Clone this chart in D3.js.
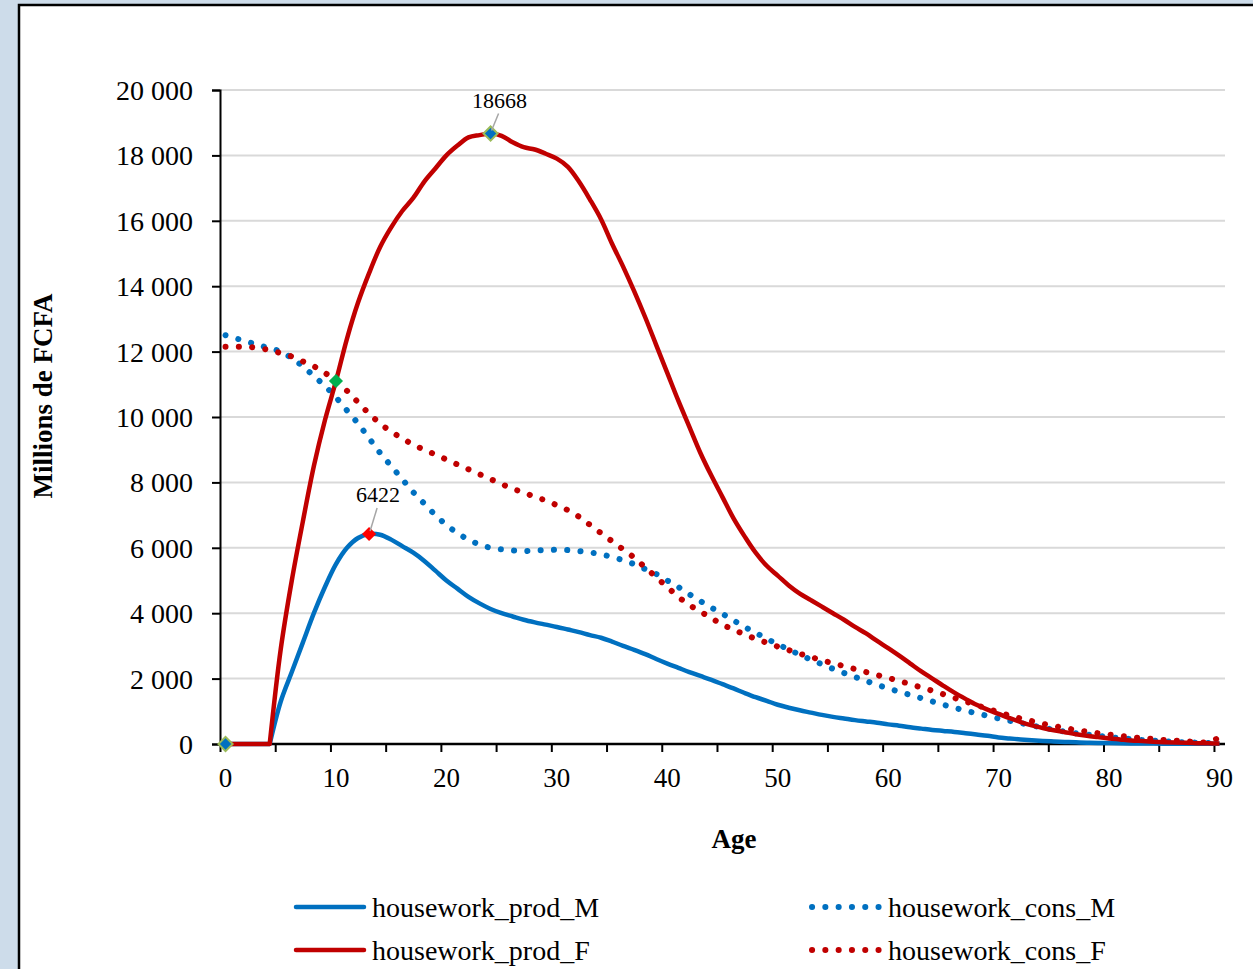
<!DOCTYPE html>
<html><head><meta charset="utf-8">
<script src="https://cdn.jsdelivr.net/npm/d3@7"></script>
<style>
html,body{margin:0;padding:0;background:#cddcea;}
svg{display:block;}
text{font-family:"Liberation Serif","Times New Roman",serif;fill:#000;}
</style></head>
<body>
<svg id="chart" width="1253" height="969"></svg>
<script>
const ages = d3.range(0, 91);
const prodM = [0,0,0,0,0,1300,2200,3100,4000,4800,5500,6000,6300,6422,6400,6250,6050,5850,5600,5300,5000,4750,4500,4300,4130,4000,3900,3800,3720,3650,3580,3500,3420,3330,3250,3130,3000,2880,2750,2600,2460,2330,2200,2080,1960,1830,1700,1560,1430,1320,1200,1110,1030,960,890,830,780,730,690,650,600,560,510,470,430,400,370,330,290,250,200,170,140,115,95,78,64,52,42,34,27,22,18,15,12,10,8,7,6,5,5];
const prodF = [0,0,0,0,0,2900,5000,6800,8500,9900,11100,12400,13500,14400,15200,15800,16300,16700,17200,17600,18000,18300,18550,18620,18668,18600,18400,18250,18180,18050,17900,17650,17200,16650,16050,15300,14600,13850,13050,12200,11350,10500,9700,8900,8200,7550,6900,6350,5850,5450,5150,4850,4600,4400,4200,4000,3800,3580,3380,3150,2930,2700,2460,2220,2000,1780,1570,1380,1200,1050,920,790,670,570,490,420,360,300,250,210,170,140,110,90,70,55,45,35,25,20,15];
const consM = [12500,12400,12300,12200,12100,12000,11800,11550,11250,10950,10600,10200,9800,9350,8900,8500,8100,7700,7350,7000,6700,6450,6250,6100,6000,5950,5920,5900,5920,5930,5940,5930,5900,5860,5800,5720,5620,5500,5350,5200,5000,4800,4580,4370,4170,3980,3780,3580,3400,3220,3050,2890,2730,2580,2440,2300,2170,2050,1930,1810,1700,1600,1500,1400,1300,1200,1110,1020,940,860,780,710,640,570,500,440,380,330,290,250,210,180,150,120,100,80,65,50,40,30,100];
const consF = [12150,12150,12150,12100,12050,11950,11850,11700,11550,11350,11100,10800,10450,10100,9800,9550,9350,9150,9000,8850,8700,8550,8400,8250,8100,7950,7800,7700,7550,7450,7300,7150,6950,6700,6450,6200,5950,5700,5400,5100,4800,4500,4250,4050,3850,3650,3500,3350,3220,3100,2980,2870,2760,2660,2560,2470,2380,2290,2200,2110,2020,1930,1830,1730,1630,1520,1410,1300,1190,1080,970,870,780,700,620,550,490,430,380,330,290,250,210,180,150,120,100,80,60,50,210];
const yTicks = [0,2000,4000,6000,8000,10000,12000,14000,16000,18000,20000];
const xLabels = [0,10,20,30,40,50,60,70,80,90];
const seriesNames = ["housework_prod_M","housework_prod_F","housework_cons_M","housework_cons_F"];
const annotations = [{age:24, value:18668, label:"18668", dy:20},{age:13, value:6422, label:"6422", dy:26}];

const svg = d3.select("#chart");
svg.append("rect").attr("x",19).attr("y",5).attr("width",1260).attr("height",990)
  .attr("fill","#fff").attr("stroke","#000").attr("stroke-width",2.5);

const L=220, R=1225, T=90, B=744;
const x = d3.scaleLinear().domain([-0.5,90.5]).range([L,R]);
const y = d3.scaleLinear().domain([0,20000]).range([B,T]);

svg.append("g").selectAll("line").data(yTicks.filter(d=>d>0)).join("line")
  .attr("x1",L).attr("x2",R).attr("y1",d=>y(d)).attr("y2",d=>y(d))
  .attr("stroke","#d9d9d9").attr("stroke-width",2);

const yAxis = d3.axisLeft(y).tickValues(yTicks).tickSize(8).tickPadding(19)
  .tickFormat(d=>d3.format(",")(d).replace(/,/g," "));
const gy = svg.append("g").attr("transform",`translate(${L},0)`).call(yAxis);
gy.select(".domain").attr("stroke","#000").attr("stroke-width",2);
gy.selectAll(".tick line").attr("stroke","#000").attr("stroke-width",2);
gy.selectAll(".tick text").attr("font-size",28).attr("font-family","Liberation Serif").attr("dy","0.34em");

const tickPos = d3.range(0,19).map(k=>-0.5+5*k);
const gx = svg.append("g").attr("transform",`translate(0,${B})`)
  .call(d3.axisBottom(x).tickValues(tickPos).tickSize(8).tickFormat(""));
gx.select(".domain").attr("stroke","#000").attr("stroke-width",2.5).attr("d",`M${L},0H${R}`);
gx.selectAll(".tick line").attr("stroke","#000").attr("stroke-width",2);
svg.append("g").selectAll("text").data(xLabels).join("text")
  .attr("x",d=>x(d)).attr("y",787).attr("text-anchor","middle")
  .attr("font-size",27).text(d=>d);

svg.append("text").attr("x",734).attr("y",848).attr("text-anchor","middle")
  .attr("font-size",27).attr("font-weight","bold").text("Age");
svg.append("text").attr("transform","translate(52,396) rotate(-90)").attr("text-anchor","middle")
  .attr("font-size",27).attr("font-weight","bold").text("Millions de FCFA");

const smooth = d3.line().x(d=>x(d.a)).y(d=>y(d.v)).curve(d3.curveCatmullRom.alpha(0.5));
const straight = d3.line().x(d=>x(d.a)).y(d=>y(d.v));
const blue="#0070c0", red="#c00000";
const dotted = {"stroke-dasharray":"0.1 13.2","stroke-linecap":"round","stroke-width":6};

function pts(data){ return data.map((v,i)=>({a:ages[i],v:v})); }
// path: leading zero run straight, then smoothed from last zero onward
function pathD(data){
  const p = pts(data);
  let k = 0; while(k+1<p.length && p[k+1].v===0) k++;
  if(k===0) return smooth(p);
  return straight(p.slice(0,k+1)) + smooth(p.slice(k)).replace(/^M/,"L");
}
function drawSolid(data,color){
  svg.append("path").attr("d",pathD(data)).attr("fill","none")
    .attr("stroke",color).attr("stroke-width",4.5).attr("stroke-linejoin","round");
}
function drawDotted(data,color){
  const p = svg.append("path").attr("d",pathD(data)).attr("fill","none").attr("stroke",color);
  for(const k in dotted) p.attr(k,dotted[k]);
}
drawDotted(consM,blue);
drawDotted(consF,red);
drawSolid(prodM,blue);
drawSolid(prodF,red);

const diamond = d3.symbol().type(d3.symbolSquare).size(100);
function marker(age,val,fill,stroke){
  svg.append("path").attr("d",diamond())
    .attr("transform",`translate(${x(age)},${y(val)}) rotate(45)`)
    .attr("fill",fill).attr("stroke",stroke).attr("stroke-width",stroke==="none"?0:2);
}
marker(0,prodF[0],blue,"#9bbb59");
marker(10,prodF[10],"#00b050","none");
marker(13,prodM[13],"#ff0000","none");
marker(24,prodF[24],blue,"#9bbb59");

annotations.forEach(a=>{
  const px=x(a.age), py=y(a.value);
  svg.append("line").attr("x1",px+1).attr("y1",py-3).attr("x2",px+8).attr("y2",py-a.dy)
    .attr("stroke","#a6a6a6").attr("stroke-width",1.5);
  svg.append("text").attr("x",px+9).attr("y",py-a.dy-6).attr("text-anchor","middle")
    .attr("font-size",22).text(a.label);
});

const leg = [
  {name:seriesNames[0],color:blue,dot:false,x:296,y:907},
  {name:seriesNames[1],color:red,dot:false,x:296,y:950},
  {name:seriesNames[2],color:blue,dot:true,x:812,y:907},
  {name:seriesNames[3],color:red,dot:true,x:812,y:950}
];
leg.forEach(l=>{
  const ln = svg.append("line").attr("x1",l.x).attr("x2",l.x+68).attr("y1",l.y).attr("y2",l.y)
    .attr("stroke",l.color);
  if(l.dot){ for(const k in dotted) ln.attr(k,dotted[k]); }
  else ln.attr("stroke-width",4.5).attr("stroke-linecap","round");
  svg.append("text").attr("x",l.x+76).attr("y",l.y+10).attr("font-size",28).text(l.name);
});
</script>
</body></html>
